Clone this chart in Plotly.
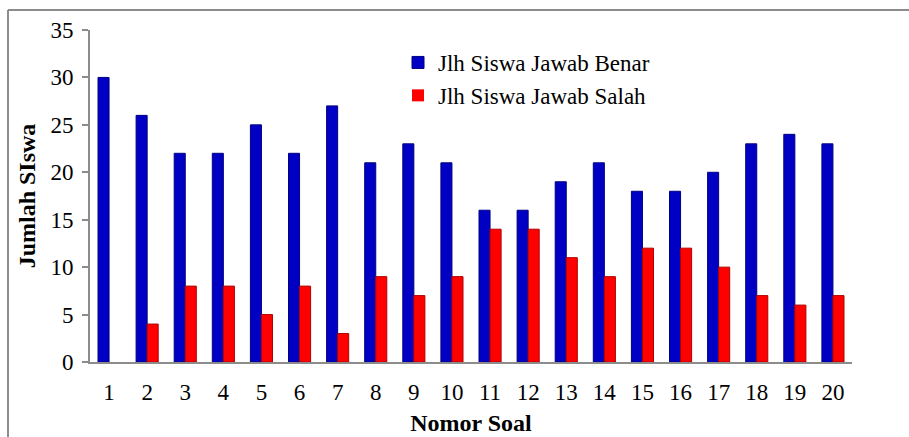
import plotly.graph_objects as go

soal = [str(i) for i in range(1, 21)]
benar = [30, 26, 22, 22, 25, 22, 27, 21, 23, 21, 16, 16, 19, 21, 18, 18, 20, 23, 24, 23]
salah = [0, 4, 8, 8, 5, 8, 3, 9, 7, 9, 14, 14, 11, 9, 12, 12, 10, 7, 6, 7]
y_ticks = [0, 5, 10, 15, 20, 25, 30, 35]

FONT = "Liberation Serif"
GREY = "#8C8C8C"

fig = go.Figure()
fig.add_trace(go.Bar(x=soal, y=benar, name="Jlh Siswa Jawab Benar",
                     marker=dict(color="#0000C4", line=dict(color="#000080", width=1))))
fig.add_trace(go.Bar(x=soal, y=salah, name="Jlh Siswa Jawab Salah",
                     marker=dict(color="#FF0000",
                                 line=dict(color="#B00000",
                                           width=[0 if v == 0 else 1 for v in salah]))))

L, R, T, B = 90, 57, 30, 75
W, H = 909, 437
pw, ph = W - L - R, H - T - B

fig.update_layout(
    width=W, height=H,
    margin=dict(l=L, r=R, t=T, b=B, autoexpand=False),
    paper_bgcolor="white", plot_bgcolor="white",
    barmode="group", bargap=0.42, bargroupgap=0,
    font=dict(family=FONT, color="black", size=23),
    showlegend=True,
    legend=dict(x=(398 - L) / pw, y=1 - (41 - T) / ph, xanchor="left", yanchor="top",
                font=dict(size=23, family=FONT), bgcolor="rgba(0,0,0,0)",
                itemwidth=30, tracegroupgap=0),
    xaxis=dict(
        type="category", range=[-0.5, 19.5],
        showline=True, linecolor=GREY, linewidth=2,
        ticks="", ticklabelstandoff=8, showgrid=False, automargin=False,
        tickfont=dict(size=23, family=FONT),
        title=dict(text="<b>Nomor Soal</b>", font=dict(size=24, family=FONT), standoff=11),
    ),
    yaxis=dict(
        range=[0, 35], tickvals=y_ticks, showgrid=False, zeroline=False,
        showline=True, linecolor=GREY, linewidth=2,
        ticks="outside", ticklen=6, tickcolor=GREY, tickwidth=1.5,
        ticklabelstandoff=4, automargin=False,
        tickfont=dict(size=23, family=FONT),
        title=dict(text="<b>Jumlah SIswa</b>", font=dict(size=24, family=FONT), standoff=8),
    ),
    shapes=[
        dict(type="line", xref="paper", yref="paper",
             x0=(8 - L) / pw, x1=(W + 5 - L) / pw, y0=1 + (T - 10) / ph, y1=1 + (T - 10) / ph,
             line=dict(color=GREY, width=2)),
        dict(type="line", xref="paper", yref="paper",
             x0=(8 - L) / pw, x1=(8 - L) / pw, y0=1 + (T - 10) / ph, y1=-(B + 5) / ph,
             line=dict(color=GREY, width=2)),
    ],
)

fig.write_html("out.html", config={"displayModeBar": False},
               post_script="document.body.style.margin='0px';")
